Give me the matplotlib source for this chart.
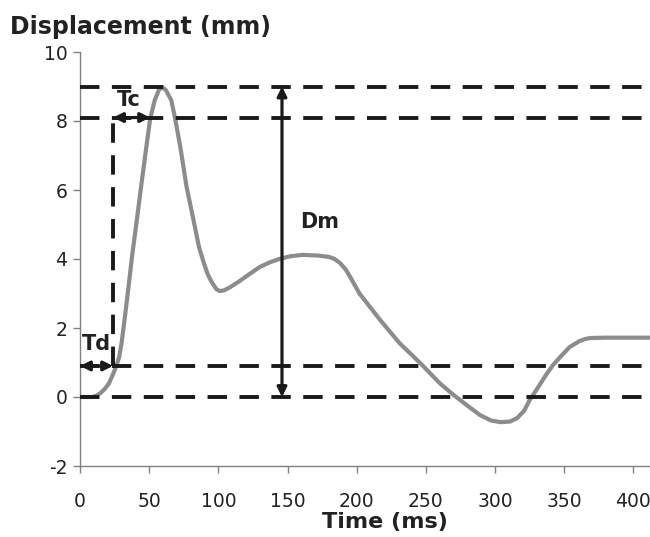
import matplotlib
matplotlib.use('Agg')
import matplotlib.pyplot as plt

plt.rcParams['axes.unicode_minus'] = False

# displacement curve
time_ms = [0, 9, 12, 15, 18, 21, 23, 26, 28.3, 30, 31.9, 33, 34.5, 37.7, 41.3, 44, 47.8,
           50.7, 54, 57, 59.4, 62, 66, 68.8, 72.5, 77, 81, 86, 89, 92, 94, 96, 98.5, 101,
           104, 108, 115, 122, 130, 137, 144, 152, 161, 172, 180, 184, 188, 192, 195,
           202, 217, 231, 246, 260, 270, 280, 289, 297, 304, 311, 316, 321, 325, 329,
           333, 337, 342, 348, 354, 361, 365, 369, 380, 412]
disp_mm = [0, 0, 0.04, 0.12, 0.24, 0.4, 0.58, 0.87, 1.16, 1.55, 2.14, 2.5, 3.0, 4.1,
           5.2, 6.05, 7.2, 8.06, 8.6, 8.9, 8.98, 8.9, 8.6, 8.06, 7.25, 6.1, 5.33, 4.35,
           3.95, 3.59, 3.42, 3.28, 3.13, 3.07, 3.09, 3.17, 3.35, 3.55, 3.77, 3.9, 4.0,
           4.08, 4.12, 4.1, 4.06, 4.0, 3.88, 3.7, 3.5, 3.0, 2.23, 1.56, 0.98, 0.4, 0.06,
           -0.25, -0.52, -0.68, -0.73, -0.71, -0.61, -0.4, -0.09, 0.15, 0.4, 0.65, 0.93,
           1.2, 1.45, 1.62, 1.68, 1.71, 1.72, 1.72]

# reference levels and markers
levels = [0, 0.9, 8.1, 9.0]
t_onset = 23.9
t_contact = 50.7
x_dm = 146

xticks = [0, 50, 100, 150, 200, 250, 300, 350, 400]
yticks = [-2, 0, 2, 4, 6, 8, 10]

fig = plt.figure(figsize=(6.5, 5.37), dpi=100)
ax = fig.add_axes([80 / 650, 71 / 537, 570 / 650, 414 / 537])

ax.plot(time_ms, disp_mm, color='#8c8c8c', lw=3.0, solid_joinstyle='round',
        solid_capstyle='round', zorder=2)

for lv in levels:
    ax.plot([0, 420], [lv, lv], color='#1a1a1a', lw=2.8, dashes=(5, 3.2), zorder=3)
ax.plot([t_onset, t_onset], [0.9, 8.1], color='#1a1a1a', lw=2.8, dashes=(5, 3.2), zorder=3)

akw = dict(arrowstyle='<|-|>', color='#1a1a1a', lw=2.3, mutation_scale=14,
           shrinkA=0, shrinkB=0)
ax.annotate('', xy=(0, 0.9), xytext=(t_onset, 0.9), arrowprops=akw, zorder=4)
ax.annotate('', xy=(t_onset, 8.1), xytext=(t_contact, 8.1), arrowprops=akw, zorder=4)
ax.annotate('', xy=(x_dm, 0), xytext=(x_dm, 9.0), arrowprops=akw, zorder=4)

ax.text(1, 1.55, 'Td', fontsize=15, fontweight='bold', color='#222222', va='center', ha='left')
ax.text(35, 8.6, 'Tc', fontsize=15, fontweight='bold', color='#222222', va='center', ha='center')
ax.text(173, 5.07, 'Dm', fontsize=15, fontweight='bold', color='#222222', va='center', ha='center')

ax.set_xlim(0, 412)
ax.set_ylim(-2, 10)
ax.set_xticks(xticks)
ax.set_yticks(yticks)
ax.tick_params(axis='both', colors='#808080', labelcolor='#222222', labelsize=13.5,
               length=5, width=1)
ax.tick_params(axis='x', pad=14)
ax.tick_params(axis='y', pad=4)
for s in ['top', 'right']:
    ax.spines[s].set_visible(False)
for s in ['left', 'bottom']:
    ax.spines[s].set_color('#808080')
    ax.spines[s].set_linewidth(1)

fig.text(10 / 650, 1 - 27 / 537, 'Displacement (mm)', fontsize=17, fontweight='bold',
         color='#222222', ha='left', va='center')
fig.text(385 / 650, 1 - 522 / 537, 'Time (ms)', fontsize=16, fontweight='bold',
         color='#222222', ha='center', va='center')

fig.savefig('out.png', dpi=100)
